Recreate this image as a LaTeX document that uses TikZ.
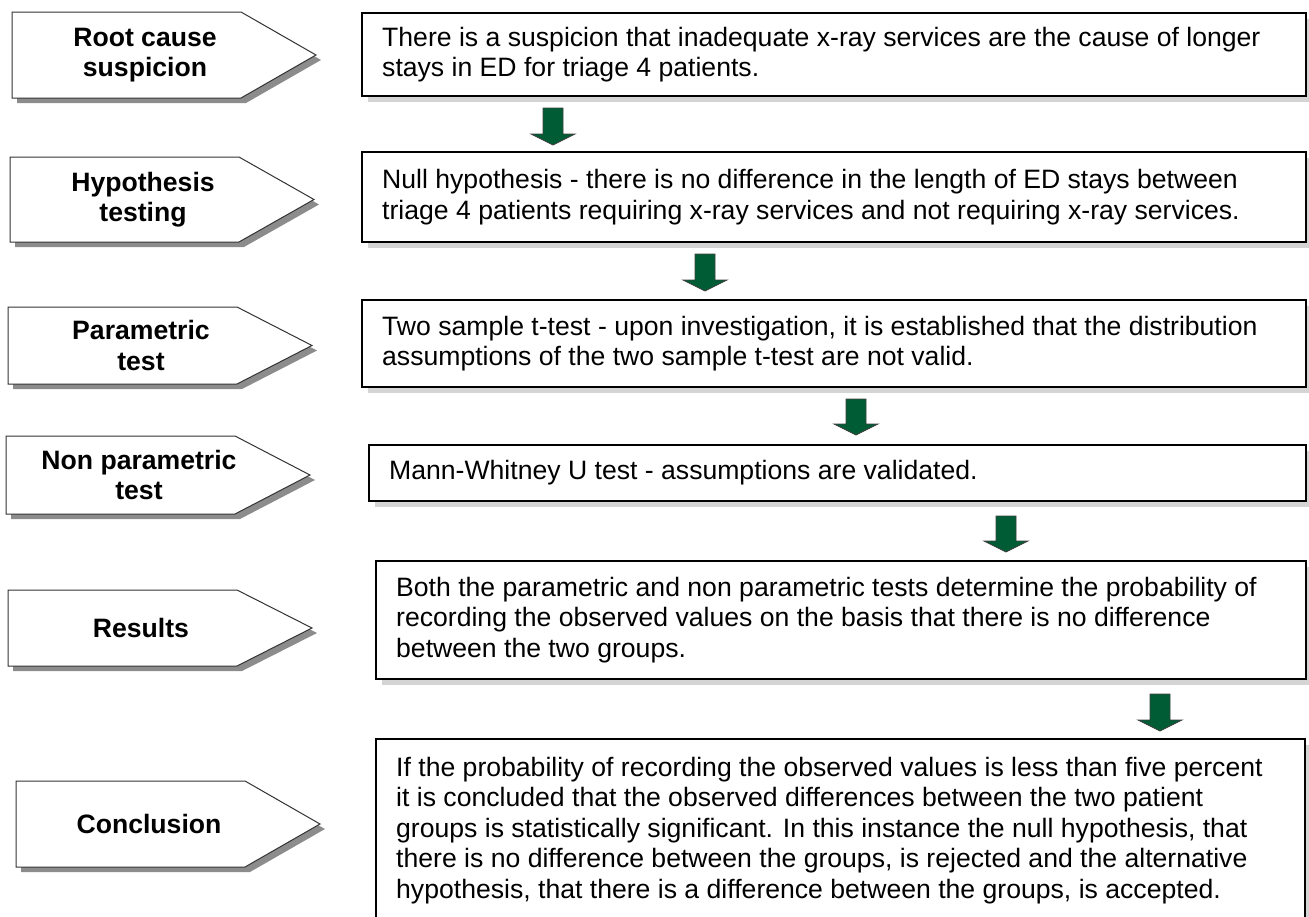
\documentclass[tikz,border=0pt]{standalone}
\usepackage{fontspec}
\setmainfont{Liberation Sans}
\usetikzlibrary{calc}
\definecolor{arrgreen}{RGB}{0,92,52}
\definecolor{pshadowc}{RGB}{140,140,140}
\definecolor{bshadowc}{RGB}{212,212,212}
\tikzset{
  pentline/.style={draw=black!80, line width=1pt, fill=white},
  pentshadow/.style={fill=pshadowc},
  pentlabel/.style={font=\fontsize{26.6}{30.5}\selectfont\bfseries, align=center, inner sep=0pt},
  rboxst/.style={draw=black, line width=2pt, fill=white, inner sep=0pt},
  rboxshadow/.style={fill=bshadowc},
  rtext/.style={font=\fontsize{26.6}{30.5}\selectfont, align=left, anchor=west, inner sep=0pt},
  garrow/.style={fill=arrgreen, draw=black!75, line width=0.8pt, line join=miter}
}
\newcommand{\pentagonbox}[5]{% name, L, T, B, text
  \fill[pentshadow] ({#2+5},{#3+5}) -- ({#2+234},{#3+5}) -- ({#2+309},{(#3+#4)/2+5}) -- ({#2+234},{#4+5}) -- ({#2+5},{#4+5}) -- cycle;
  \draw[pentline] (#2,#3) -- ({#2+229},#3) -- ({#2+304},{(#3+#4)/2}) -- ({#2+229},#4) -- (#2,#4) -- cycle;
  \node[pentlabel] (#1) at ({#2+133},{(#3+#4)/2}) {#5};
}
\newcommand{\rightbox}[7]{% name, textname, L, T, R, B, text
  \fill[rboxshadow] ({#3+6},{#4+6}) rectangle ({#5+6},{#6+6});
  \node[rboxst, minimum width={(#5-#3)*1pt}, minimum height={(#6-#4)*1pt}] (#1) at ({(#3+#5)/2},{(#4+#6)/2}) {};
  \node[rtext] (#2) at ([xshift=21pt]#1.west) {#7};
}
\newcommand{\greenarrow}[2]{% top coordinate, tip coordinate
  \draw[garrow] ($(#1)+(-10,0)$) -- ($(#1)+(10,0)$) -- ($(#2)+(10,-11)$) -- ($(#2)+(22,-11)$) -- (#2) -- ($(#2)+(-22,-11)$) -- ($(#2)+(-10,-11)$) -- cycle;
}
\begin{document}
\begin{tikzpicture}[x=1pt,y=-1pt]
\useasboundingbox (0,0) rectangle (1309,916);
\clip (0,0) rectangle (1309,916);
\fill[white] (0,0) rectangle (1309,916);

% left column
\pentagonbox{p1}{12}{12}{98}{Root cause\\suspicion}
\pentagonbox{p2}{10}{157}{242}{Hypothesis\\testing}
\pentagonbox{p3}{8}{307}{384}{Parametric\\test}
\pentagonbox{p4}{6}{436}{514}{Non parametric\\test}
\pentagonbox{p5}{8}{590}{666}{Results}
\pentagonbox{p6}{16}{781}{867}{Conclusion}

% right column
\rightbox{b1}{t1}{362}{13}{1306}{96}{There is a suspicion that inadequate x-ray services are the cause of longer\\stays in ED for triage 4 patients.}
\rightbox{b2}{t2}{362}{152}{1306}{242}{Null hypothesis - there is no difference in the length of ED stays between\\triage 4 patients requiring x-ray services and not requiring x-ray services.}
\rightbox{b3}{t3}{362}{300}{1306}{387}{Two sample t-test - upon investigation, it is established that the distribution\\assumptions of the two sample t-test are not valid.}
\rightbox{b4}{t4}{369}{445}{1306}{501}{Mann-Whitney U test - assumptions are validated.}
\rightbox{b5}{t5}{376}{561}{1306}{679}{Both the parametric and non parametric tests determine the probability of\\recording the observed values on the basis that there is no difference\\between the two groups.}
\rightbox{b6}{t6}{376}{739}{1305}{922}{If the probability of recording the observed values is less than five percent\\it is concluded that the observed differences between the two patient\\groups is statistically significant. In this instance the null hypothesis, that\\there is no difference between the groups, is rejected and the alternative\\hypothesis, that there is a difference between the groups, is accepted.}

% arrows between boxes
\coordinate (a1s) at ([yshift=-11pt]b1.south -| 553,0);
\coordinate (a1e) at ([yshift=6pt]b2.north -| 553,0);
\coordinate (a2s) at ([yshift=-11pt]b2.south -| 705,0);
\coordinate (a2e) at ([yshift=8pt]b3.north -| 705,0);
\coordinate (a3s) at ([yshift=-11pt]b3.south -| 856,0);
\coordinate (a3e) at ([yshift=9pt]b4.north -| 856,0);
\coordinate (a4s) at ([yshift=-14pt]b4.south -| 1006,0);
\coordinate (a4e) at ([yshift=8pt]b5.north -| 1006,0);
\coordinate (a5s) at ([yshift=-14pt]b5.south -| 1160,0);
\coordinate (a5e) at ([yshift=7pt]b6.north -| 1160,0);
\greenarrow{a1s}{a1e}
\greenarrow{a2s}{a2e}
\greenarrow{a3s}{a3e}
\greenarrow{a4s}{a4e}
\greenarrow{a5s}{a5e}
\end{tikzpicture}
\end{document}
